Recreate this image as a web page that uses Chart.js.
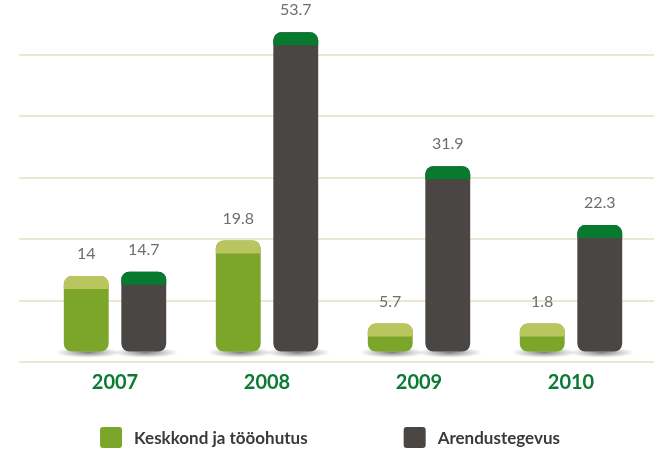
<html>
<head>
<style>
  html, body { margin: 0; padding: 0; background: #fff; }
  #wrap { width: 654px; height: 449px; }
</style>
</head>
<body>
<script src="https://cdn.jsdelivr.net/npm/chart.js@4/dist/chart.umd.min.js"></script>
<div id="wrap"><canvas id="myChart" width="654" height="449"></canvas></div>
<script>
// data
const years = ['2007', '2008', '2009', '2010'];
const keskkond = [14, 19.8, 5.7, 1.8];
const arendus = [14.7, 53.7, 31.9, 22.3];
const seriesNames = ['Keskkond ja tööohutus', 'Arendustegevus'];
const gridValues = [0, 10, 20, 30, 40, 50];

const bodyColors = ['#7ba62a', '#4a4643'];
const capColors = ['#b9c55e', '#087a30'];

// gridlines wider than the chart area
const gridPlugin = {
  id: 'grid',
  beforeDatasetsDraw(chart) {
    const ctx = chart.ctx;
    const y = chart.scales.y;
    ctx.save();
    ctx.strokeStyle = '#e7e9d5';
    ctx.lineWidth = 2;
    gridValues.forEach(v => {
      const py = Math.round(y.getPixelForValue(v));
      ctx.beginPath();
      ctx.moveTo(19, py);
      ctx.lineTo(chart.width, py);
      ctx.stroke();
    });
    // soft shadows under the bars
    chart.data.datasets.forEach((ds, i) => {
      chart.getDatasetMeta(i).data.forEach(bar => {
        const p = bar.getProps(['x', 'base', 'width'], true);
        ctx.save();
        ctx.translate(p.x + 2, p.base + 1);
        ctx.scale(1, 0.16);
        const r = p.width / 2 + 10;
        const g = ctx.createRadialGradient(0, 0, 0, 0, 0, r);
        g.addColorStop(0, 'rgba(0,0,0,0.5)');
        g.addColorStop(0.6, 'rgba(0,0,0,0.18)');
        g.addColorStop(1, 'rgba(0,0,0,0)');
        ctx.fillStyle = g;
        ctx.beginPath();
        ctx.arc(0, 0, r, 0, Math.PI * 2);
        ctx.fill();
        ctx.restore();
      });
    });
    ctx.restore();
  }
};

// light caps on top of each bar + value labels + legend
const decorPlugin = {
  id: 'decor',
  afterDatasetsDraw(chart) {
    const ctx = chart.ctx;
    ctx.save();
    chart.data.datasets.forEach((ds, i) => {
      chart.getDatasetMeta(i).data.forEach((bar, j) => {
        const p = bar.getProps(['x', 'y', 'base', 'width'], true);
        const left = p.x - p.width / 2;
        const h = p.base - p.y;
        ctx.save();
        ctx.beginPath();
        ctx.rect(left - 1, p.y - 1, p.width + 2, 14);
        ctx.clip();
        ctx.fillStyle = capColors[i];
        ctx.beginPath();
        ctx.roundRect(left, p.y, p.width, h, 8);
        ctx.fill();
        ctx.restore();

        ctx.fillStyle = '#6e6e6e';
        ctx.font = '16px Lato';
        ctx.textAlign = 'center';
        ctx.textBaseline = 'middle';
        ctx.fillText(String(ds.data[j]), p.x, p.y - 22);
      });
    });

    // legend
    ctx.font = 'bold 17px Lato';
    ctx.textBaseline = 'middle';
    ctx.textAlign = 'left';
    const box = 22, gap = 12, between = 96;
    const widths = seriesNames.map(n => box + gap + ctx.measureText(n).width);
    const total = widths[0] + between + widths[1];
    let x = 330 - total / 2;
    seriesNames.forEach((n, i) => {
      ctx.fillStyle = bodyColors[i];
      ctx.beginPath();
      ctx.roundRect(x, 427, box, 21, 3);
      ctx.fill();
      ctx.fillStyle = '#3a3a3a';
      ctx.fillText(n, x + box + gap, 439);
      x += widths[i] + between;
    });
    ctx.restore();
  }
};

const ctx = document.getElementById('myChart').getContext('2d');
const myChart = new Chart(ctx, {
  type: 'bar',
  data: {
    labels: years,
    datasets: [{
      label: seriesNames[0],
      data: keskkond,
      backgroundColor: bodyColors[0]
    }, {
      label: seriesNames[1],
      data: arendus,
      backgroundColor: bodyColors[1]
    }]
  },
  options: {
    responsive: false,
    animation: false,
    layout: { padding: { left: 39, right: 7, top: 9, bottom: 53 } },
    datasets: {
      bar: {
        base: 1.7,
        minBarLength: 28,
        borderRadius: 8,
        borderSkipped: false,
        categoryPercentage: 0.757,
        barPercentage: 0.78
      }
    },
    scales: {
      x: {
        grid: { display: false },
        border: { display: false },
        ticks: {
          color: '#0b7a35',
          padding: 1,
          font: { family: 'Lato', size: 20, weight: 'bold' }
        }
      },
      y: {
        display: false,
        min: 0,
        max: 57.5
      }
    },
    plugins: {
      legend: { display: false },
      tooltip: { enabled: false }
    }
  },
  plugins: [gridPlugin, decorPlugin]
});
</script>
</body>
</html>
